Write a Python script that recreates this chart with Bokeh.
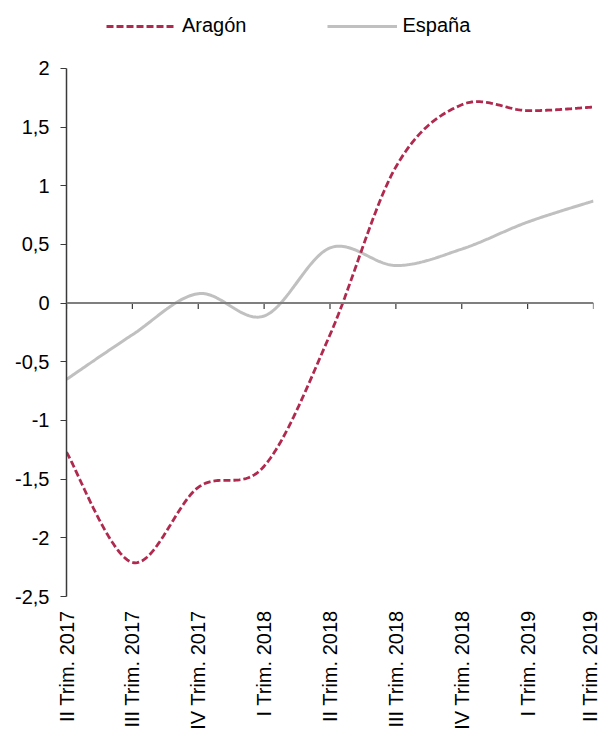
import math
import numpy as np
from bokeh.plotting import figure
from bokeh.models import (Range1d, FixedTicker, Legend, LegendItem, Span,
                          CustomJSTickFormatter)
from bokeh.embed import file_html
from bokeh.resources import INLINE

# ---- data ----
quarters = ["II Trim. 2017", "III Trim. 2017", "IV Trim. 2017",
            "I Trim. 2018", "II Trim. 2018", "III Trim. 2018",
            "IV Trim. 2018", "I Trim. 2019", "II Trim. 2019"]
aragon = [-1.27, -2.21, -1.57, -1.39, -0.27, 1.16, 1.69, 1.64, 1.67]
espana = [-0.65, -0.27, 0.08, -0.11, 0.47, 0.32, 0.46, 0.69, 0.87]
y_ticks = [-2.5, -2, -1.5, -1, -0.5, 0, 0.5, 1, 1.5, 2]

FONT = "Liberation Sans"


def smooth(ys, n=40):
    """Smoothed (Catmull-Rom / Bezier) rendering of a line through the points."""
    xs = np.arange(len(ys), dtype=float)
    pts = np.column_stack([xs, np.asarray(ys, dtype=float)])
    last = len(pts) - 1
    ox, oy = [], []
    for i in range(last):
        p0 = pts[max(i - 1, 0)]
        p1 = pts[i]
        p2 = pts[i + 1]
        p3 = pts[min(i + 2, last)]
        c1 = p1 + (p2 - p0) / 6.0
        c2 = p2 - (p3 - p1) / 6.0
        t = np.linspace(0, 1, n, endpoint=(i == last - 1))[:, None]
        b = ((1 - t) ** 3) * p1 + 3 * ((1 - t) ** 2) * t * c1 \
            + 3 * (1 - t) * t ** 2 * c2 + t ** 3 * p2
        ox.extend(b[:, 0])
        oy.extend(b[:, 1])
    return ox, oy


FRAME_H = 596
Y_END = 2.578
px_per_unit = FRAME_H / (Y_END + 2.5)

p = figure(frame_width=527, frame_height=FRAME_H,
           x_range=Range1d(0, len(quarters) - 1),
           y_range=Range1d(-2.5, Y_END),
           output_backend="svg", toolbar_location=None,
           min_border_left=66, min_border_right=7,
           min_border_top=0, min_border_bottom=0)
p.xgrid.visible = False
p.ygrid.visible = False
p.outline_line_color = None
p.background_fill_color = "white"

# y axis
ya = p.yaxis[0]
ya.ticker = FixedTicker(ticks=y_ticks)
ya.formatter = CustomJSTickFormatter(code="return tick.toString().replace('.', ',');")
ya.bounds = (-2.5, 2)
ya.axis_line_color = "#3a3a3a"
ya.axis_line_width = 1.5
ya.major_tick_line_color = "#3a3a3a"
ya.major_tick_line_width = 1.2
ya.major_tick_in = 0
ya.major_tick_out = 6
ya.minor_tick_line_color = None
ya.major_label_standoff = 11
ya.major_label_text_font = FONT
ya.major_label_text_font_size = "20px"
ya.major_label_text_color = "#000000"

# x axis (labels only)
xa = p.xaxis[0]
xa.ticker = FixedTicker(ticks=list(range(len(quarters))))
xa.formatter = CustomJSTickFormatter(args=dict(labels=quarters),
                                     code="return labels[Math.round(tick)];")
xa.axis_line_color = None
xa.major_tick_line_color = None
xa.minor_tick_line_color = None
xa.major_tick_in = 0
xa.major_tick_out = 0
xa.major_label_standoff = 14
xa.major_label_orientation = math.pi / 2
xa.major_label_text_font = FONT
xa.major_label_text_font_size = "20px"
xa.major_label_text_color = "#000000"

# zero line with downward ticks
p.add_layout(Span(location=0, dimension="width", line_color="#7f7f7f", line_width=2))
tx = list(range(len(quarters)))
p.segment(x0=tx, y0=[0] * len(tx), x1=tx, y1=[-6.0 / px_per_unit] * len(tx),
          line_color="#3a3a3a", line_width=1.2)

# series
ex, ey = smooth(espana)
ax, ay = smooth(aragon)
r_es = p.line(ex, ey, line_color="#c0c0c0", line_width=3)
r_ar = p.line(ax, ay, line_color="#b02a4f", line_width=2.8, line_dash="7 3")

legend = Legend(items=[LegendItem(label="Aragón", renderers=[r_ar]),
                       LegendItem(label="España", renderers=[r_es])],
                location=(40, FRAME_H - 37), orientation="horizontal",
                padding=0, margin=0, spacing=80, label_standoff=6,
                glyph_width=70, glyph_height=20, label_height=20,
                label_text_font=FONT, label_text_font_size="20px",
                label_text_color="#000000",
                border_line_color=None, background_fill_alpha=0)
p.add_layout(legend)

open("out.html", "w").write(file_html(p, INLINE))
